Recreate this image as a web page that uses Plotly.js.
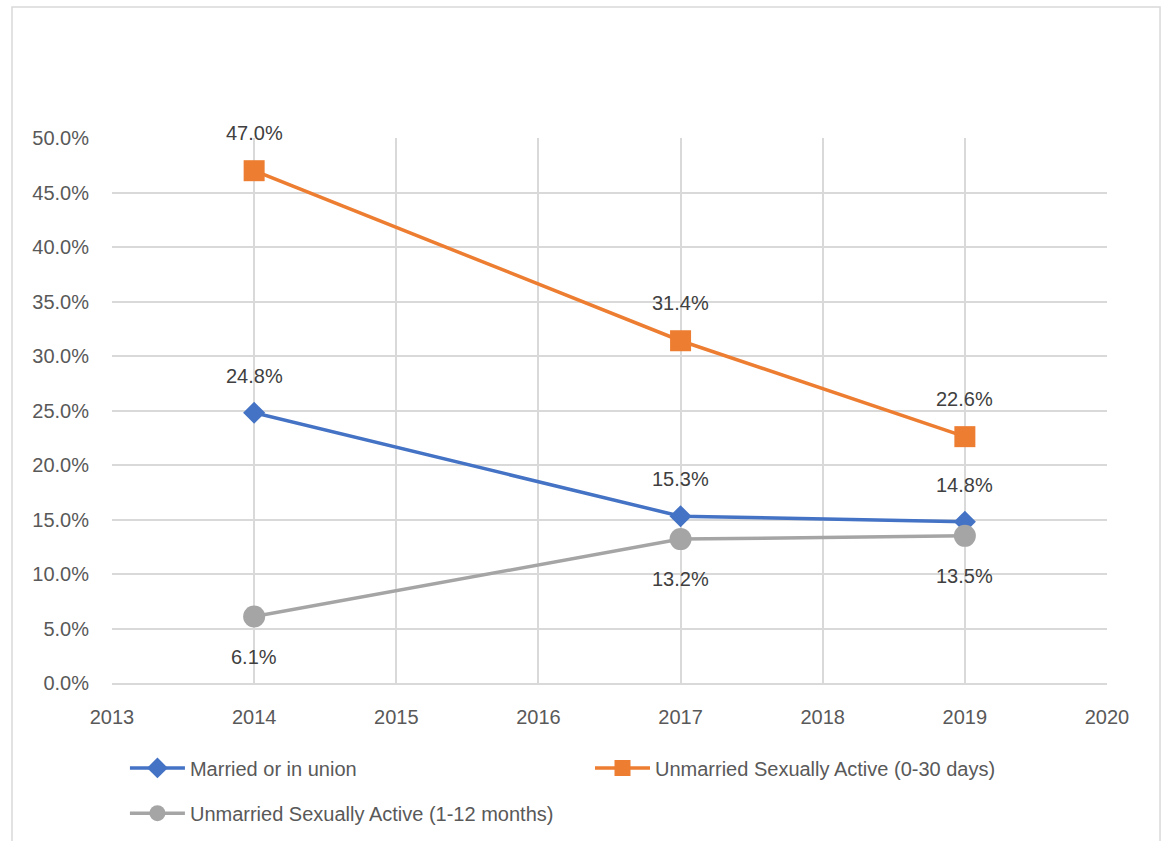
<!DOCTYPE html>
<html><head><meta charset="utf-8">
<script src="https://cdn.plot.ly/plotly-3.0.1.min.js"></script>
<style>body{margin:0;background:#fff}#c{width:1163px;height:841px}</style>
</head><body><div id="c"></div>
<script>
var years = [2014, 2017, 2019];
var married = [0.248, 0.153, 0.148];
var unmarried030 = [0.470, 0.314, 0.226];
var unmarried112 = [0.061, 0.132, 0.135];
var seriesNames = ["Married or in union", "Unmarried Sexually Active (0-30 days)", "Unmarried Sexually Active (1-12 months)"];
var colors = ["#4472C4", "#ED7D31", "#A5A5A5"];
var FONT = "Liberation Sans, Arial, sans-serif";
var FS = 20;

var traces = [
  {x: years, y: married, name: seriesNames[0], mode: "lines+markers", legend: "legend",
   line: {color: colors[0], width: 3.5}, marker: {symbol: "diamond", size: 17, color: colors[0]}},
  {x: years, y: unmarried030, name: seriesNames[1], mode: "lines+markers", legend: "legend2",
   line: {color: colors[1], width: 3.5}, marker: {symbol: "square", size: 21, color: colors[1]}},
  {x: years, y: unmarried112, name: seriesNames[2], mode: "lines+markers", legend: "legend3",
   line: {color: colors[2], width: 3.5}, marker: {symbol: "circle", size: 22, color: colors[2]}}
];

var annotations = [];
function addLabels(vals, shift) {
  vals.forEach(function(v, i) {
    annotations.push({x: years[i], y: v, xref: "x", yref: "y", text: (v*100).toFixed(1) + "%",
      showarrow: false, yshift: shift, font: {family: FONT, size: FS, color: "#404040"}});
  });
}
addLabels(married, 37);
addLabels(unmarried030, 38);
addLabels(unmarried112, -40);

function leg(x, y) {
  return {orientation: "h", x: x, y: y, xanchor: "left", yanchor: "top", itemwidth: 55,
    bgcolor: "rgba(0,0,0,0)", font: {family: FONT, size: FS, color: "#595959"}};
}

var layout = {
  width: 1163, height: 841,
  margin: {l: 112, r: 56, t: 138, b: 158, autoexpand: false},
  paper_bgcolor: "#fff", plot_bgcolor: "#fff",
  font: {family: FONT, size: FS, color: "#595959"},
  showlegend: true,
  xaxis: {range: [2013, 2020], dtick: 1, tick0: 2013, showgrid: true, gridcolor: "#d9d9d9", gridwidth: 1.5,
    zeroline: false, showline: true, linecolor: "#d9d9d9", linewidth: 1.5, ticks: "",
    tickfont: {family: FONT, size: FS, color: "#595959"}, ticklabelstandoff: 15},
  yaxis: {range: [0, 0.5], dtick: 0.05, tickformat: ".1%", showgrid: true, gridcolor: "#d9d9d9", gridwidth: 1.5,
    zeroline: false, showline: false, ticks: "", ticklabelstandoff: 22,
    tickfont: {family: FONT, size: FS, color: "#595959"}},
  legend: leg(0.013, -0.12),
  legend2: leg(0.4804, -0.12),
  legend3: leg(0.013, -0.203),
  annotations: annotations,
  shapes: [{type: "rect", xref: "paper", yref: "paper", x0: -0.1005, x1: 1.0533, y0: -0.3, y1: 1.2404,
    line: {color: "#d9d9d9", width: 1.5}, fillcolor: "rgba(0,0,0,0)", layer: "below"}]
};

Plotly.newPlot("c", traces, layout, {displayModeBar: false});
</script></body></html>
